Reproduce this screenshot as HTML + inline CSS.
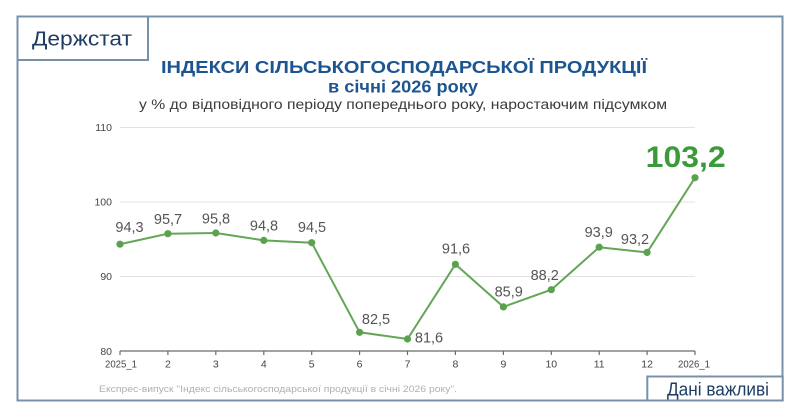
<!DOCTYPE html>
<html>
<head>
<meta charset="utf-8">
<style>
html,body{margin:0;padding:0;background:#fff;}
svg{display:block;}
text{font-family:"Liberation Sans","Noto Sans CJK SC",sans-serif;}
</style>
</head>
<body>
<svg width="800" height="420" viewBox="0 0 800 420" xmlns="http://www.w3.org/2000/svg">
<rect x="0" y="0" width="800" height="420" fill="#ffffff"/>
<!-- outer frame -->
<rect x="17.5" y="16.5" width="765" height="384" fill="#fff" stroke="#7891a8" stroke-width="2"/>
<!-- Держстат box -->
<rect x="17.5" y="16.5" width="130.5" height="43.5" fill="#fff" stroke="#7891a8" stroke-width="2"/>
<text x="32" y="45.5" font-size="20" fill="#1f3d63" textLength="100" lengthAdjust="spacingAndGlyphs">Держстат</text>

<!-- titles -->
<text x="161" y="73" font-size="17.5" font-weight="bold" fill="#1d5590" textLength="486" lengthAdjust="spacingAndGlyphs">ІНДЕКСИ СІЛЬСЬКОГОСПОДАРСЬКОЇ ПРОДУКЦІЇ</text>
<text x="328" y="92.5" font-size="17.5" font-weight="bold" fill="#1d5590" textLength="150" lengthAdjust="spacingAndGlyphs">в січні 2026 року</text>
<text x="139" y="109" font-size="13.5" fill="#3b3b3b" textLength="528" lengthAdjust="spacingAndGlyphs">у % до відповідного періоду попереднього року, наростаючим підсумком</text>

<!-- gridlines -->
<g stroke="#e3e3e3" stroke-width="1">
<line x1="120" y1="127.5" x2="695" y2="127.5"/>
<line x1="120" y1="202" x2="695" y2="202"/>
<line x1="120" y1="276.5" x2="695" y2="276.5"/>
</g>
<!-- y labels -->
<g font-size="10.5" fill="#444" text-anchor="end">
<text x="112" y="131">110</text>
<text x="112" y="205.5">100</text>
<text x="112" y="280">90</text>
<text x="112" y="355">80</text>
</g>
<!-- x axis -->
<line x1="120" y1="351" x2="695" y2="351" stroke="#6a6a6a" stroke-width="1.3"/>
<g stroke="#6a6a6a" stroke-width="1.2">
<line x1="120" y1="351" x2="120" y2="355"/>
<line x1="167.9" y1="351" x2="167.9" y2="355"/>
<line x1="215.8" y1="351" x2="215.8" y2="355"/>
<line x1="263.8" y1="351" x2="263.8" y2="355"/>
<line x1="311.7" y1="351" x2="311.7" y2="355"/>
<line x1="359.6" y1="351" x2="359.6" y2="355"/>
<line x1="407.5" y1="351" x2="407.5" y2="355"/>
<line x1="455.4" y1="351" x2="455.4" y2="355"/>
<line x1="503.4" y1="351" x2="503.4" y2="355"/>
<line x1="551.3" y1="351" x2="551.3" y2="355"/>
<line x1="599.2" y1="351" x2="599.2" y2="355"/>
<line x1="647.1" y1="351" x2="647.1" y2="355"/>
<line x1="695" y1="351" x2="695" y2="355"/>
</g>
<g font-size="10.5" fill="#444" text-anchor="middle">
<text x="121" y="367.5" textLength="32" lengthAdjust="spacingAndGlyphs">2025_1</text>
<text x="167.9" y="367.5">2</text>
<text x="215.8" y="367.5">3</text>
<text x="263.8" y="367.5">4</text>
<text x="311.7" y="367.5">5</text>
<text x="359.6" y="367.5">6</text>
<text x="407.5" y="367.5">7</text>
<text x="455.4" y="367.5">8</text>
<text x="503.4" y="367.5">9</text>
<text x="551.3" y="367.5">10</text>
<text x="599.2" y="367.5">11</text>
<text x="647.1" y="367.5">12</text>
<text x="694" y="367.5" textLength="32" lengthAdjust="spacingAndGlyphs">2026_1</text>
</g>

<!-- series -->
<polyline fill="none" stroke="#62a656" stroke-width="2" stroke-linejoin="round"
points="120,244.2 167.9,233.7 215.8,233 263.8,240.4 311.7,242.7 359.6,332.3 407.5,339 455.4,264.3 503.4,306.9 551.3,289.7 599.2,247.2 647.1,252.4 695,177.7"/>
<g fill="#5aa24e">
<circle cx="120" cy="244.2" r="3.6"/>
<circle cx="167.9" cy="233.7" r="3.6"/>
<circle cx="215.8" cy="233" r="3.6"/>
<circle cx="263.8" cy="240.4" r="3.6"/>
<circle cx="311.7" cy="242.7" r="3.6"/>
<circle cx="359.6" cy="332.3" r="3.6"/>
<circle cx="407.5" cy="339" r="3.6"/>
<circle cx="455.4" cy="264.3" r="3.6"/>
<circle cx="503.4" cy="306.9" r="3.6"/>
<circle cx="551.3" cy="289.7" r="3.6"/>
<circle cx="599.2" cy="247.2" r="3.6"/>
<circle cx="647.1" cy="252.4" r="3.6"/>
<circle cx="695" cy="177.7" r="3.6"/>
</g>
<!-- data labels -->
<g font-size="14.5" fill="#555" text-anchor="middle">
<text x="129.5" y="232">94,3</text>
<text x="168" y="224">95,7</text>
<text x="216" y="223.3">95,8</text>
<text x="264" y="230.5">94,8</text>
<text x="312" y="232">94,5</text>
<text x="376" y="324">82,5</text>
<text x="429" y="342.5">81,6</text>
<text x="456" y="253.5">91,6</text>
<text x="508.7" y="296.7">85,9</text>
<text x="544.7" y="280">88,2</text>
<text x="598.7" y="237">93,9</text>
<text x="635" y="244">93,2</text>
</g>
<text x="685.7" y="167" font-size="30" font-weight="bold" fill="#3b9a3a" text-anchor="middle" textLength="80" lengthAdjust="spacingAndGlyphs">103,2</text>

<!-- footer -->
<text x="99" y="392" font-size="9.5" fill="#b0b0b0" textLength="358" lengthAdjust="spacingAndGlyphs">Експрес-випуск "Індекс сільськогосподарської продукції в січні 2026 року".</text>
<rect x="647.3" y="376.5" width="135.4" height="24" fill="#fff" stroke="#7891a8" stroke-width="2"/>
<text x="667" y="395.5" font-size="18" fill="#1f3d63" textLength="102" lengthAdjust="spacingAndGlyphs">Дані важливі</text>
</svg>
</body>
</html>
